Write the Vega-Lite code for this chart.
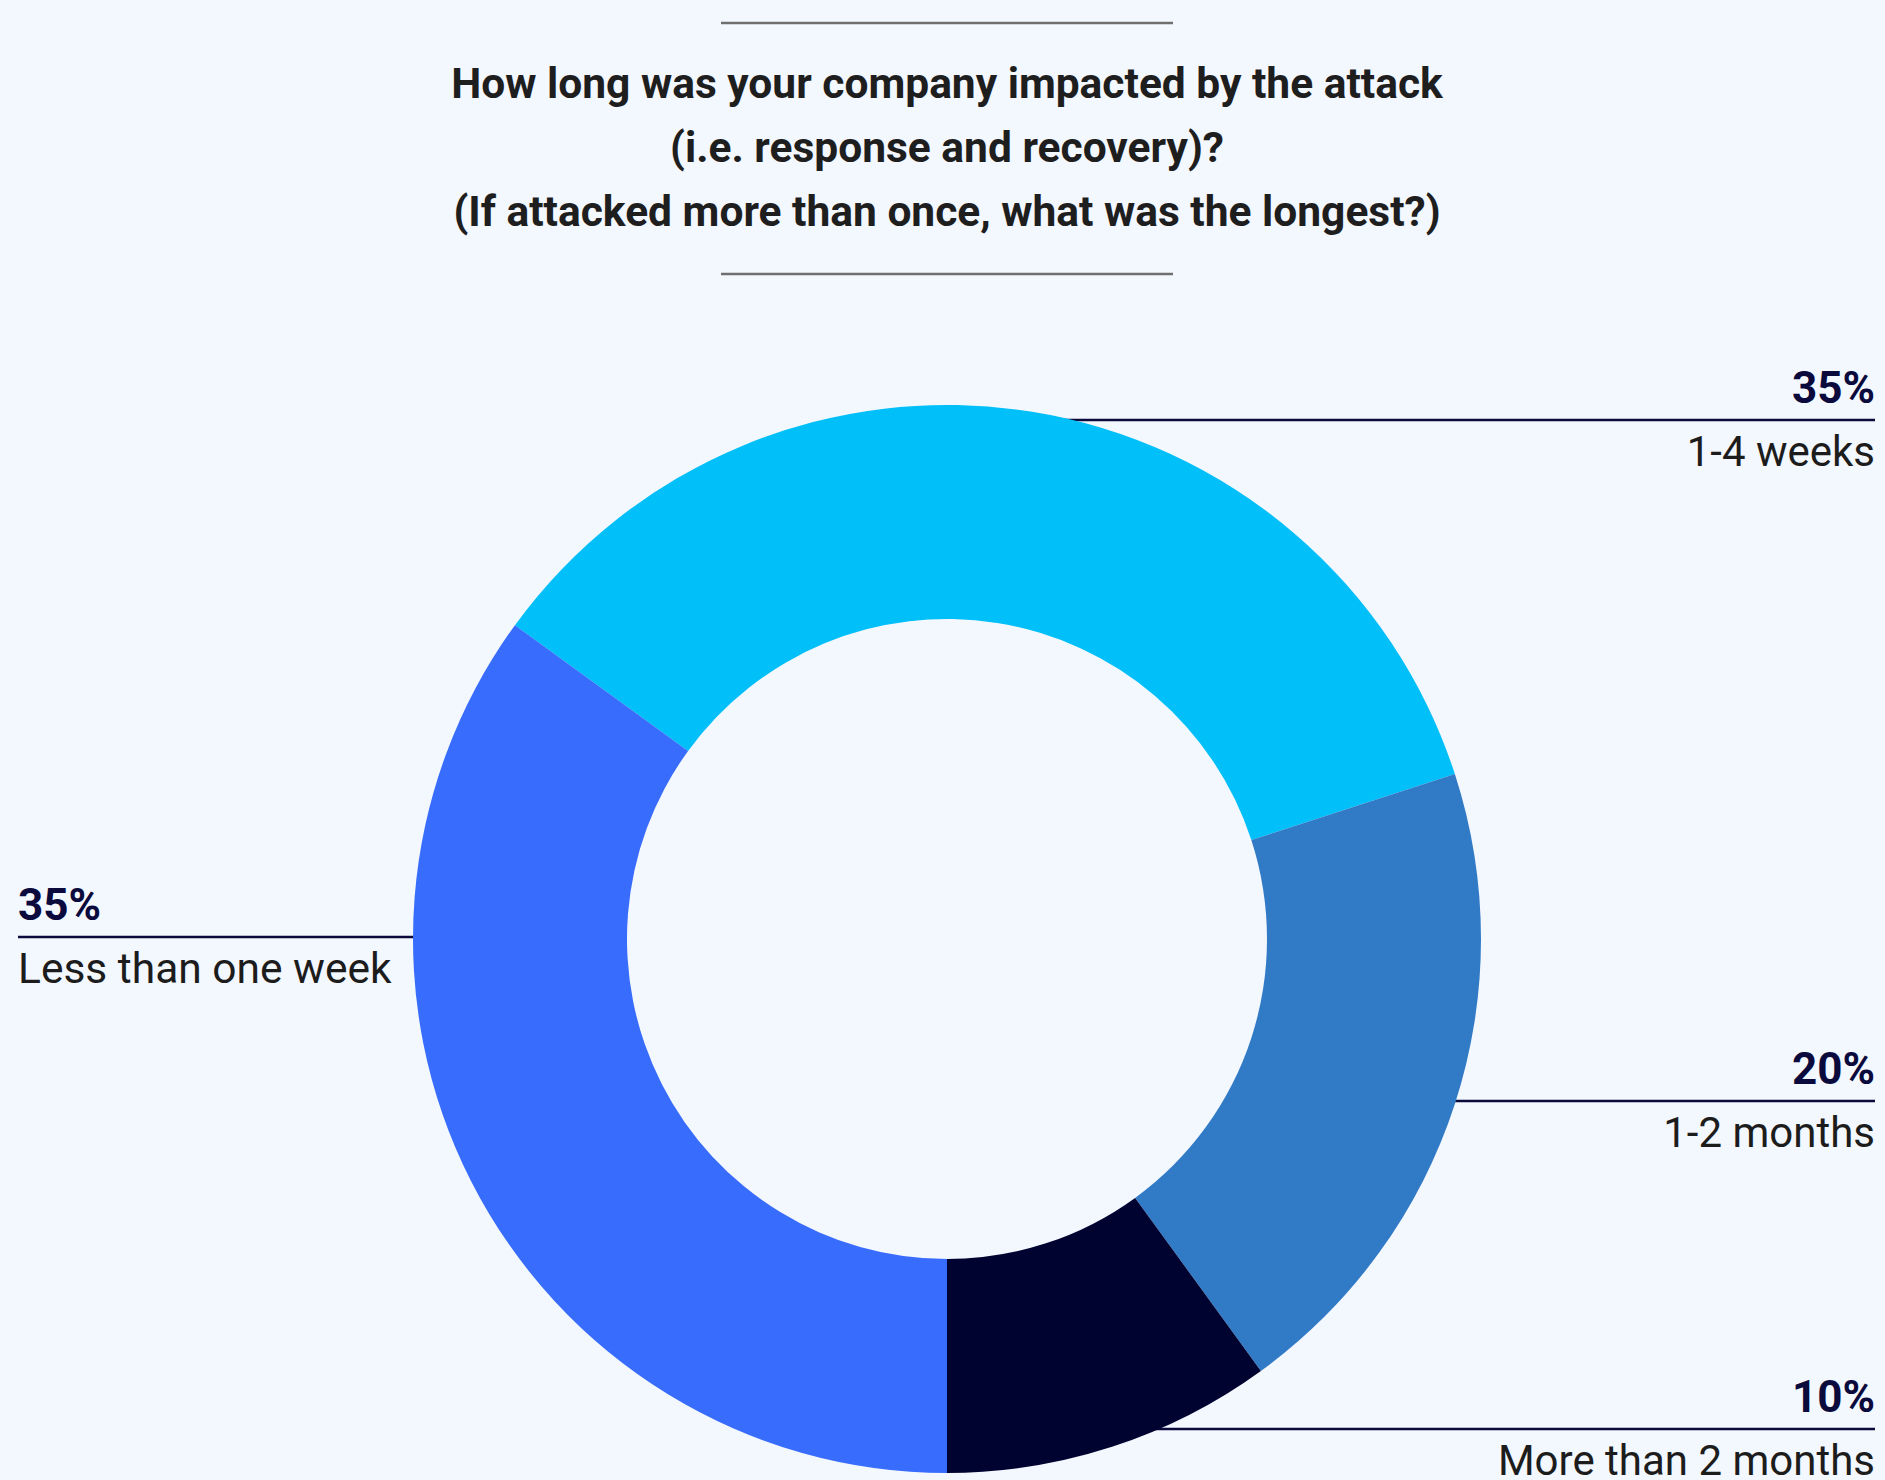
{
  "$schema": "https://vega.github.io/schema/vega-lite/v6.json",
  "width": 1876,
  "height": 1082,
  "autosize": {"type": "none"},
  "padding": {"left": 9, "top": 398, "right": 0, "bottom": 0},
  "background": "#F3F7FE",
  "config": {"view": {"stroke": null}, "font": "Roboto"},
  "title": {
    "text": ["How long was your company impacted by the attack", "(i.e. response and recovery)?", "(If attacked more than once, what was the longest?)"],
    "fontSize": 42.5,
    "fontWeight": "bold",
    "font": "Roboto",
    "color": "#1E1E1E",
    "lineHeight": 64,
    "anchor": "middle",
    "offset": -213
  },
  "datasets": {
    "responses": [
      {"category": "1-4 weeks", "share": 0.35, "order": 1},
      {"category": "1-2 months", "share": 0.20, "order": 2},
      {"category": "More than 2 months", "share": 0.10, "order": 3},
      {"category": "Less than one week", "share": 0.35, "order": 4}
    ],
    "dividers": [{"edge": "top"}, {"edge": "bottom"}],
    "hole": [{"part": "centre"}]
  },
  "layer": [
    {
      "data": {"name": "dividers"},
      "mark": {"type": "rule", "color": "#6F6F6F", "strokeWidth": 2.5},
      "encoding": {
        "y": {"field": "edge", "type": "nominal", "scale": {"type": "point", "domain": ["top", "bottom"], "range": [-375, -124], "padding": 0}, "axis": null},
        "x": {"value": {"expr": "width/2 - 226"}},
        "x2": {"value": {"expr": "width/2 + 226"}}
      }
    },
    {
      "data": {"name": "responses"},
      "mark": {"type": "rule", "color": "#0A0A3C", "strokeWidth": 2.5},
      "encoding": {
        "y": {"field": "order", "type": "quantitative", "scale": {"domain": [1, 2, 3, 4], "range": [22, 703, 1031, 539], "zero": false, "nice": false}, "axis": null},
        "x": {"field": "order", "type": "quantitative", "scale": {"domain": [1, 2, 3, 4], "range": [1866, 1866, 1866, 9], "zero": false, "nice": false}, "axis": null},
        "x2": {"value": {"expr": "width/2"}}
      }
    },
    {
      "data": {"name": "hole"},
      "mark": {"type": "arc", "outerRadius": 321, "innerRadius": 0, "theta": 0, "theta2": 6.2832, "color": "#F3F7FE"},
      "encoding": {}
    },
    {
      "data": {"name": "responses"},
      "mark": {"type": "arc", "outerRadius": 534, "innerRadius": 320},
      "encoding": {
        "theta": {"field": "share", "type": "quantitative", "stack": true, "scale": {"range": [-0.9425, 5.3407]}},
        "order": {"field": "order", "type": "quantitative"},
        "color": {
          "field": "category",
          "type": "nominal",
          "scale": {
            "domain": ["1-4 weeks", "1-2 months", "More than 2 months", "Less than one week"],
            "range": ["#00BFF9", "#317BC6", "#000230", "#386CFC"]
          },
          "legend": null
        }
      }
    },
    {
      "data": {"name": "responses"},
      "transform": [{"filter": "datum.order <= 3"}],
      "encoding": {
        "y": {"field": "order", "type": "quantitative", "scale": {"domain": [1, 2, 3, 4], "range": [22, 703, 1031, 539], "zero": false, "nice": false}, "axis": null},
        "x": {"field": "order", "type": "quantitative", "scale": {"domain": [1, 2, 3, 4], "range": [1866, 1866, 1866, 9], "zero": false, "nice": false}, "axis": null}
      },
      "layer": [
        {
          "mark": {"type": "text", "align": "right", "baseline": "alphabetic", "dy": -17, "fontSize": 44, "fontWeight": "bold", "color": "#0A0A3C"},
          "encoding": {"text": {"field": "share", "type": "quantitative", "format": ".0%"}}
        },
        {
          "mark": {"type": "text", "align": "right", "baseline": "alphabetic", "dy": 46, "fontSize": 42, "color": "#1C1C1C"},
          "encoding": {"text": {"field": "category", "type": "nominal"}}
        }
      ]
    },
    {
      "data": {"name": "responses"},
      "transform": [{"filter": "datum.order == 4"}],
      "encoding": {
        "y": {"field": "order", "type": "quantitative", "scale": {"domain": [1, 2, 3, 4], "range": [22, 703, 1031, 539], "zero": false, "nice": false}, "axis": null},
        "x": {"field": "order", "type": "quantitative", "scale": {"domain": [1, 2, 3, 4], "range": [1866, 1866, 1866, 9], "zero": false, "nice": false}, "axis": null}
      },
      "layer": [
        {
          "mark": {"type": "text", "align": "left", "baseline": "alphabetic", "dy": -17, "fontSize": 44, "fontWeight": "bold", "color": "#0A0A3C"},
          "encoding": {"text": {"field": "share", "type": "quantitative", "format": ".0%"}}
        },
        {
          "mark": {"type": "text", "align": "left", "baseline": "alphabetic", "dy": 46, "fontSize": 42.5, "color": "#1C1C1C"},
          "encoding": {"text": {"field": "category", "type": "nominal"}}
        }
      ]
    }
  ],
  "resolve": {"scale": {"x": "independent", "y": "independent"}}
}
